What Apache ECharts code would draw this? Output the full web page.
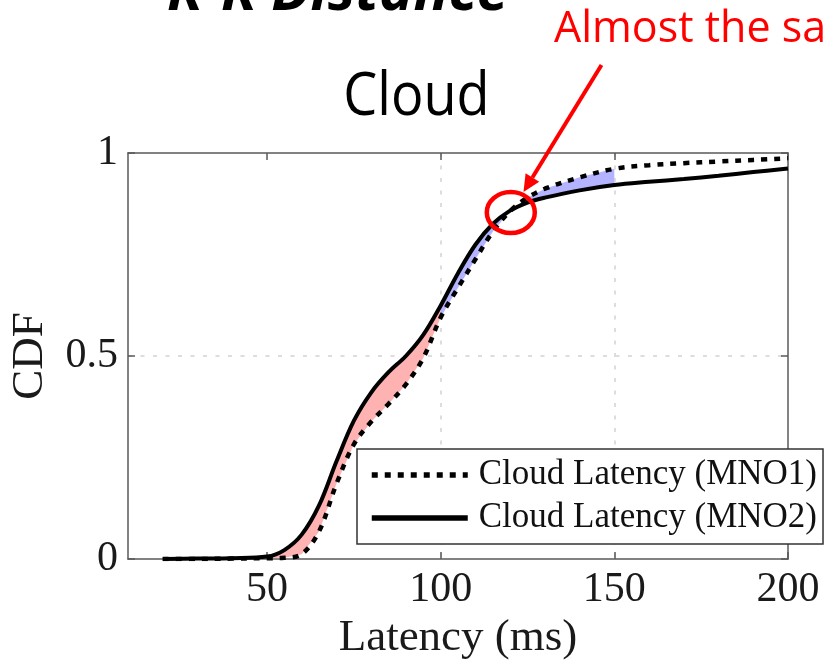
<!DOCTYPE html>
<html>
<head>
<meta charset="utf-8">
<script src="https://cdn.jsdelivr.net/npm/echarts@6/dist/echarts.min.js"></script>
<style>
  html, body { margin: 0; padding: 0; background: #fff; }
  #chart { width: 827px; height: 666px; }
</style>
</head>
<body>
<div id="chart"></div>
<script>
// Latency samples (ms) and the empirical CDF of each operator
const latency = [20, 30, 40, 50, 55, 60, 65, 70, 75, 80, 85, 90, 95, 100, 105, 110, 115, 120, 125, 130, 140, 150, 160, 170, 180, 190, 200];
const cdfMNO1 = [0.000, 0.000, 0.001, 0.002, 0.003, 0.012, 0.068, 0.185, 0.282, 0.338, 0.382, 0.430, 0.495, 0.595, 0.668, 0.738, 0.806, 0.857, 0.890, 0.912, 0.940, 0.961, 0.970, 0.975, 0.979, 0.983, 0.987];
const cdfMNO2 = [0.000, 0.001, 0.002, 0.006, 0.022, 0.060, 0.132, 0.240, 0.340, 0.410, 0.460, 0.500, 0.552, 0.624, 0.704, 0.774, 0.825, 0.858, 0.878, 0.890, 0.908, 0.921, 0.929, 0.936, 0.944, 0.953, 0.962];

const seriesNames = ['Cloud Latency (MNO1)', 'Cloud Latency (MNO2)'];
const xTickValues = [50, 100, 150, 200];
const yTickValues = [0, 0.5, 1];

// Latency ranges whose gap between the two curves is shaded
const pinkRange = [50, 100];
const blueRange = [100, 150];

const SERIF = '"Liberation Serif", "Times New Roman", serif';
const FRAME = '#5a5a5a';

function pairs(ys) {
  return latency.map((x, i) => [x, ys[i]]);
}

// Filled band between the two CDFs over a latency range
function bandSeries(range, color) {
  return {
    type: 'custom',
    silent: true,
    clip: true,
    z: 1,
    data: [[range[0], 0]],
    renderItem: function (params, api) {
      const upper = [];
      const lower = [];
      latency.forEach((x, i) => {
        if (x >= range[0] && x <= range[1]) {
          upper.push(api.coord([x, cdfMNO2[i]]));
          lower.push(api.coord([x, cdfMNO1[i]]));
        }
      });
      return {
        type: 'polygon',
        shape: { points: upper.concat(lower.reverse()) },
        style: { fill: color, stroke: null }
      };
    }
  };
}

function frameAxis(extra) {
  return Object.assign({
    type: 'value',
    axisLine: { show: true, onZero: false, lineStyle: { color: FRAME, width: 1.5 } },
    axisTick: { show: true, inside: true, length: 7, lineStyle: { color: FRAME, width: 1.5 } },
    axisLabel: { show: false },
    splitLine: { show: false }
  }, extra);
}

const chart = echarts.init(document.getElementById('chart'), null, { renderer: 'canvas' });

chart.setOption({
  backgroundColor: '#fff',
  animation: false,
  grid: { left: 123, right: 39, top: 153, bottom: 107, containLabel: false },
  xAxis: [
    frameAxis({
      position: 'bottom', min: 10, max: 200, splitNumber: 4,
      axisTick: { show: true, inside: true, length: 7, customValues: xTickValues, lineStyle: { color: FRAME, width: 1.5 } },
      axisLabel: { show: true, customValues: xTickValues, fontFamily: SERIF, fontSize: 42, color: '#1a1a1a', margin: 10 },
      splitLine: { show: true, showMinLine: false, showMaxLine: false, lineStyle: { color: '#d2d2d2', width: 1.5, type: [4, 8.5] } },
      name: 'Latency (ms)', nameLocation: 'middle', nameGap: 57,
      nameTextStyle: { fontFamily: SERIF, fontSize: 45, color: '#1a1a1a' }
    }),
    frameAxis({
      position: 'top', min: 10, max: 200, splitNumber: 4,
      axisTick: { show: true, inside: true, length: 7, customValues: xTickValues, lineStyle: { color: FRAME, width: 1.5 } }
    })
  ],
  yAxis: [
    frameAxis({
      position: 'left', min: 0, max: 1, interval: 0.5,
      axisTick: { show: true, inside: true, length: 7, customValues: yTickValues, lineStyle: { color: FRAME, width: 1.5 } },
      axisLabel: { show: true, customValues: yTickValues, fontFamily: SERIF, fontSize: 42, color: '#1a1a1a', margin: 10 },
      splitLine: { show: true, showMinLine: false, showMaxLine: false, lineStyle: { color: '#d2d2d2', width: 1.5, type: [4, 8.5] } },
      name: 'CDF', nameLocation: 'middle', nameGap: 75, nameRotate: 90,
      nameTextStyle: { fontFamily: SERIF, fontSize: 45, color: '#1a1a1a' }
    }),
    frameAxis({
      position: 'right', min: 0, max: 1, interval: 0.5,
      axisTick: { show: true, inside: true, length: 7, customValues: yTickValues, lineStyle: { color: FRAME, width: 1.5 } }
    })
  ],
  legend: {
    data: seriesNames,
    orient: 'vertical',
    left: 357,
    top: 449,
    backgroundColor: '#fff',
    borderColor: '#333',
    borderWidth: 1.5,
    borderRadius: 0,
    padding: [8, 6, 8, 12],
    itemGap: 7,
    itemWidth: 96,
    itemHeight: 16,
    selectedMode: false,
    itemStyle: { opacity: 0, borderWidth: 0 },
    lineStyle: { width: 5.5, color: '#000', cap: 'butt' },
    textStyle: { fontFamily: SERIF, fontSize: 35, lineHeight: 36, color: '#111', padding: [0, 0, 0, 6] }
  },
  series: [
    bandSeries(pinkRange, '#ffb2b2'),
    bandSeries(blueRange, '#b3b3ff'),
    {
      name: seriesNames[0],
      type: 'line',
      data: pairs(cdfMNO1),
      smooth: 0.35,
      symbol: 'none',
      z: 3,
      lineStyle: { color: '#000', width: 4.5, type: [6, 7], cap: 'butt' },
      itemStyle: { color: '#000' }
    },
    {
      name: seriesNames[1],
      type: 'line',
      data: pairs(cdfMNO2),
      smooth: 0.35,
      symbol: 'none',
      z: 4,
      lineStyle: { color: '#000', width: 4, type: 'solid' },
      itemStyle: { color: '#000' }
    }
  ],
  graphic: [
    {
      type: 'text', x: 167, y: -7, z: 10,
      style: { text: 'R-R Distance', font: 'italic bold 58px "Open Sans", sans-serif', fill: '#000', align: 'left', verticalAlign: 'middle' }
    },
    {
      type: 'text', x: 416.5, y: 98, scaleX: 0.9, z: 10,
      style: { text: 'Cloud', font: '60px "Open Sans", sans-serif', fill: '#000', align: 'center', verticalAlign: 'middle' }
    },
    {
      type: 'text', x: 554, y: 30, z: 10,
      style: { text: 'Almost the same', font: '43px "Open Sans", sans-serif', fill: '#ff0000', align: 'left', verticalAlign: 'middle' }
    },
    {
      type: 'line', z: 10,
      shape: { x1: 601.5, y1: 65, x2: 532.4, y2: 177.5 },
      style: { stroke: '#ff0000', lineWidth: 4 }
    },
    {
      type: 'polygon', z: 10,
      shape: { points: [[523.5, 192], [539.2, 181.7], [525.6, 173.3]] },
      style: { fill: '#ff0000' }
    },
    {
      type: 'ellipse', z: 10,
      shape: { cx: 510.8, cy: 212.5, rx: 24, ry: 20.5 },
      style: { fill: null, stroke: '#ff0000', lineWidth: 4.5 }
    }
  ]
});
</script>
</body>
</html>
